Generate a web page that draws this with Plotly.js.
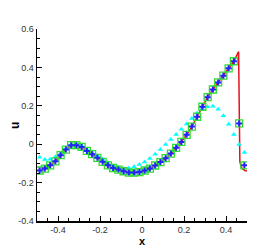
<!DOCTYPE html>
<html><head><meta charset="utf-8">
<script src="https://cdn.plot.ly/plotly-3.0.1.min.js"></script>
<style>html,body{margin:0;padding:0;background:#fff}#c{width:280px;height:249px}</style>
</head><body><div id="c"></div>
<script>
var xs = [-0.4875,-0.4625,-0.4375,-0.4125,-0.3875,-0.3625,-0.3375,-0.3125,-0.2875,-0.2625,
-0.2375,-0.2125,-0.1875,-0.1625,-0.1375,-0.1125,-0.0875,-0.0625,-0.0375,-0.0125,
0.0125,0.0375,0.0625,0.0875,0.1125,0.1375,0.1625,0.1875,0.2125,0.2375,
0.2625,0.2875,0.3125,0.3375,0.3625,0.3875,0.4125,0.4375,0.4625,0.4875];
var uSquare = [-0.137,-0.127,-0.110,-0.089,-0.057,-0.028,-0.005,-0.005,-0.014,-0.035,
-0.052,-0.071,-0.092,-0.110,-0.124,-0.132,-0.141,-0.148,-0.148,-0.145,
-0.137,-0.127,-0.111,-0.093,-0.073,-0.049,-0.019,0.012,0.049,0.092,
0.143,0.195,0.245,0.285,0.322,0.357,0.395,0.432,0.108,-0.110];
var uTri = [-0.068,-0.080,-0.079,-0.066,-0.048,-0.025,-0.004,-0.002,-0.008,-0.027,
-0.045,-0.060,-0.078,-0.095,-0.112,-0.122,-0.127,-0.124,-0.118,-0.106,
-0.093,-0.074,-0.052,-0.028,-0.002,0.025,0.051,0.078,0.105,0.134,
0.163,0.186,0.195,0.198,0.182,0.148,0.104,0.051,-0.001,-0.043];
var xLine = xs.slice(0,38).concat([0.460,0.4615,0.4635,0.466,0.472,0.480,0.490,0.500]);
var uLine = uSquare.slice(0,38).concat([0.482,0.300,0.000,-0.090,-0.118,-0.130,-0.137,-0.140]);
var yTicks = [-0.4,-0.2,0,0.2,0.4,0.6];
var yLabels = ['-0.4','-0.2','0','0.2','0.4','0.6'];
var xTicks = [-0.4,-0.2,0,0.2,0.4];
var xLabels = ['-0.4','-0.2','0','0.2','0.4'];
var xTitle = 'x';
var yTitle = 'u';

var traces = [
 {x:xLine,y:uLine,mode:'lines',line:{color:'#e8101a',width:1.5},hoverinfo:'none'},
 {x:xs,y:uTri,mode:'markers',marker:{symbol:'triangle-up',color:'#00ffff',size:5,line:{width:0}}},
 {x:xs,y:uSquare,mode:'markers',marker:{symbol:'square-open',color:'#33dd33',size:7,line:{width:1.3,color:'#33dd33'}}},
 {x:xs,y:uSquare,mode:'markers',marker:{symbol:'cross',color:'#2222ff',size:5,line:{width:0}}}
];
var axisCommon = {showgrid:false,zeroline:false,showline:true,linecolor:'#000',linewidth:1.5,
  ticks:'inside',ticklen:5,tickwidth:1,tickcolor:'#000',tickmode:'array',
  tickfont:{family:'Liberation Sans, Arial, sans-serif',size:9,color:'#333'},
  minor:{tickmode:'linear',dtick:0.05,ticks:'inside',ticklen:3,tickwidth:1,tickcolor:'#000'}};
var titleFontX = {family:'Liberation Sans, Arial, sans-serif',size:11,color:'#000'};
var titleFontY = {family:'Liberation Sans, Arial, sans-serif',size:12,color:'#000'};
var layout = {
 width:280,height:249,showlegend:false,
 margin:{l:37,r:33,t:29,b:28},
 paper_bgcolor:'#fff',plot_bgcolor:'#fff',
 xaxis:Object.assign({},axisCommon,{range:[-0.5,0.5],tickvals:xTicks,ticktext:xLabels,
   minor:Object.assign({},axisCommon.minor,{tick0:-0.5})}),
 yaxis:Object.assign({},axisCommon,{range:[-0.4,0.6],tickvals:yTicks,ticktext:yLabels,
   minor:Object.assign({},axisCommon.minor,{tick0:-0.4})}),
 annotations:[
  {text:'<b>'+xTitle+'</b>',xref:'paper',yref:'paper',x:0.5,y:-0.1425,xanchor:'center',yanchor:'bottom',borderpad:0,showarrow:false,font:titleFontX},
  {text:'<b>'+yTitle+'</b>',xref:'paper',yref:'paper',x:-0.105,y:0.5,xanchor:'center',yanchor:'middle',textangle:-90,borderpad:0,showarrow:false,font:titleFontY}
 ]
};
Plotly.newPlot('c',traces,layout,{staticPlot:true,displayModeBar:false});
</script></body></html>
